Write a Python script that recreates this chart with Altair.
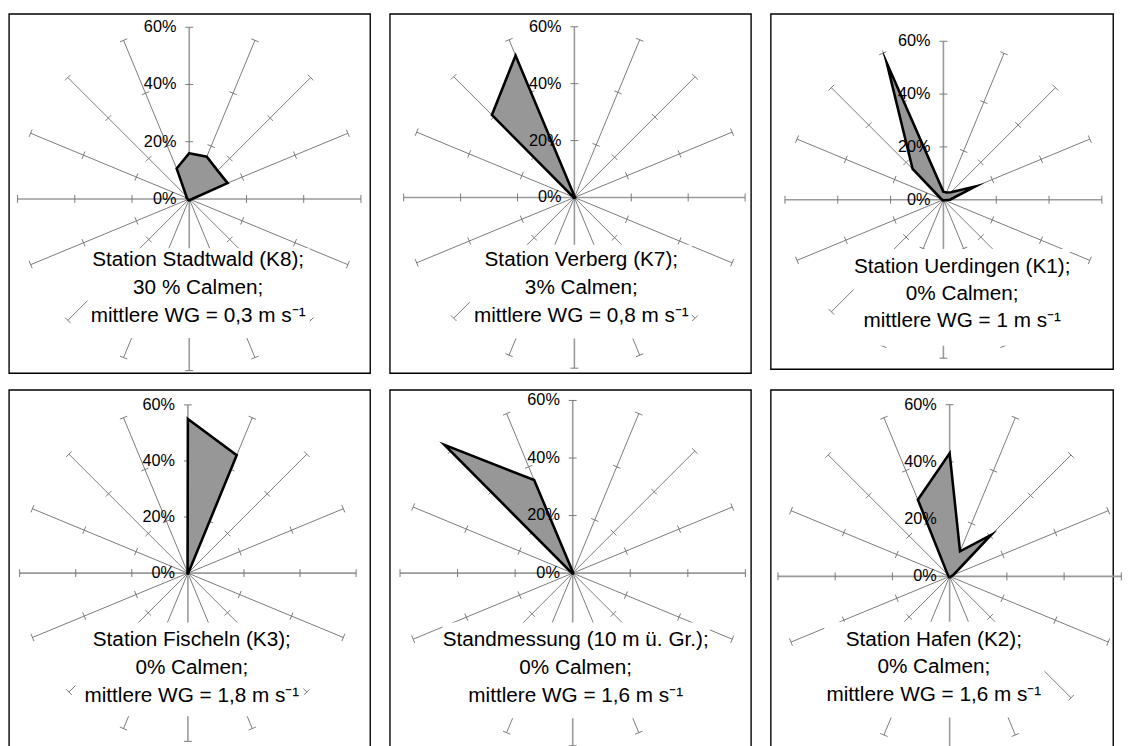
import math
import altair as alt
import pandas as pd

# ---------------- data ----------------
DIRECTIONS = ["N", "NNE", "NE", "ENE", "E", "ESE", "SE", "SSE",
              "S", "SSW", "SW", "WSW", "W", "WNW", "NW", "NNW"]
RING_TICKS = [20, 40, 60]
RING_LABELS = [0, 20, 40, 60]

STATIONS = ["Station Stadtwald (K8);", "Station Verberg (K7);", "Station Uerdingen (K1);",
            "Station Fischeln (K3);", "Standmessung (10 m ü. Gr.);", "Station Hafen (K2);"]
CALMS = ["30 % Calmen;", "3% Calmen;", "0% Calmen;",
         "0% Calmen;", "0% Calmen;", "0% Calmen;"]
MEAN_WS = ["mittlere WG = 0,3 m s⁻¹", "mittlere WG = 0,8 m s⁻¹", "mittlere WG = 1 m s⁻¹",
           "mittlere WG = 1,8 m s⁻¹", "mittlere WG = 1,6 m s⁻¹", "mittlere WG = 1,6 m s⁻¹"]

# frequency (%) per direction, N, NNE, ..., NNW
FREQ_K8 = [16, 16, 14, 14.5, 1, 0.5, 0.5, 0.5, 0.5, 0.5, 0.5, 0.5, 0.5, 1, 1.5, 11.5]
FREQ_K7 = [0.5, 0.3, 0.3, 0.3, 0.3, 0.2, 0.2, 0.2, 0.2, 0.2, 0.2, 0.2, 0.3, 0.5, 41, 54]
FREQ_K1 = [3, 3, 4, 13, 2.5, 0.5, 0.3, 0.3, 0.3, 0.3, 0.3, 0.3, 0.5, 1, 16.5, 56]
FREQ_K3 = [55, 45.5, 0.3, 0.2, 0.2, 0.2, 0.2, 0.2, 0.2, 0.2, 0.2, 0.2, 0.2, 0.2, 0.2, 0.3]
FREQ_STAND = [0.5, 0.3, 0.2, 0.2, 0.2, 0.2, 0.2, 0.2, 0.2, 0.2, 0.2, 0.2, 0.3, 0.5, 63, 35]
FREQ_K2 = [43, 9.5, 20.5, 1.5, 0.5, 0.3, 0.3, 0.3, 0.3, 0.3, 0.3, 0.3, 0.3, 0.5, 1, 29]
FREQS = [FREQ_K8, FREQ_K7, FREQ_K1, FREQ_K3, FREQ_STAND, FREQ_K2]

# ---------------- layout (pixels) ----------------
LAYOUT = [
    dict(w=366, h=364, cx=182.7, cy=187.5, r=174.0, tx=9, ty=[61.5, 90, 118.5], box=(-103, 122, 50, 141)),
    dict(w=366, h=364, cx=187.0, cy=186.0, r=173.0, tx=7, ty=[63, 92, 120], box=(-106, 119, 48, 143)),
    dict(w=347, h=360, cx=175.0, cy=188.3, r=160.6, tx=19, ty=[68, 96, 123], box=(-91, 128, 50, 148)),
    dict(w=366, h=364, cx=181.3, cy=185.7, r=170.5, tx=4, ty=[68, 96, 125], box=(-114, 117, 50, 145)),
    dict(w=366, h=364, cx=185.3, cy=185.7, r=175.0, tx=3, ty=[68, 96, 125], box=(-132, 139, 50, 147)),
    dict(w=347, h=364, cx=181.3, cy=189.0, r=174.0, tx=-16, ty=[65, 92, 120], box=(-127, 96, 46, 143)),
]

FONT = "Liberation Sans"
RMAX = max(RING_TICKS)


def panel(i):
    L = LAYOUT[i]
    k = L["r"] / RMAX  # px per percent
    xs = alt.Scale(domain=[-L["cx"] / k, (L["w"] - L["cx"]) / k], nice=False, zero=False)
    ys = alt.Scale(domain=[-(L["h"] - L["cy"]) / k, L["cy"] / k], nice=False, zero=False)

    def X(f):
        return alt.X(f, type="quantitative", scale=xs, axis=None)

    def Y(f):
        return alt.Y(f, type="quantitative", scale=ys, axis=None)

    spokes, ticks, poly = [], [], []
    half = 4.0 / k
    for j, d in enumerate(DIRECTIONS):
        a = math.radians(j * 22.5)
        s, c = math.sin(a), math.cos(a)
        spokes.append(dict(dir=d, x=0.0, y=0.0, x2=RMAX * s, y2=RMAX * c, card=(j % 4 == 0)))
        for t in RING_TICKS:
            px, py = t * s, t * c
            ticks.append(dict(x=px - half * c, y=py + half * s, x2=px + half * c, y2=py - half * s))
        v = FREQS[i][j]
        poly.append(dict(dir=d, idx=j, x=v * s, y=v * c))
    sp = pd.DataFrame(spokes)
    tk = pd.DataFrame(ticks)
    pl = pd.DataFrame(poly)

    spoke_diag = alt.Chart(sp[~sp["card"]]).mark_rule(color="#7a7a7a", strokeWidth=1).encode(
        x=X("x"), y=Y("y"), x2="x2", y2="y2")
    spoke_card = alt.Chart(sp[sp["card"]]).mark_rule(color="#9a9a9a", strokeWidth=1.6).encode(
        x=X("x"), y=Y("y"), x2="x2", y2="y2")
    tick_layer = alt.Chart(tk).mark_rule(color="#7a7a7a", strokeWidth=1).encode(
        x=X("x"), y=Y("y"), x2="x2", y2="y2")
    poly_layer = alt.Chart(pl).mark_line(
        interpolate="linear-closed", fill="#979797", stroke="black",
        strokeWidth=2.6, strokeJoin="miter", strokeMiterLimit=12
    ).encode(x=X("x"), y=Y("y"), order=alt.Order("idx:Q"))

    l, r, t, b = L["box"]
    box = pd.DataFrame([dict(x=l / k, x2=r / k, y=-t / k, y2=-b / k)])
    box_layer = alt.Chart(box).mark_rect(fill="white", strokeWidth=0).encode(
        x=X("x"), x2="x2", y=Y("y"), y2="y2")

    lab = pd.DataFrame([dict(x=0.0, y=float(v), text=f"{v}%") for v in RING_LABELS])
    lab_layer = alt.Chart(lab).mark_text(
        align="right", baseline="middle", dx=-13, font=FONT, fontSize=16.5, color="black"
    ).encode(x=X("x"), y=Y("y"), text="text")

    lines = [STATIONS[i], CALMS[i], MEAN_WS[i]]
    ttl = pd.DataFrame([dict(x=L["tx"] / k, y=-L["ty"][n] / k, text=lines[n]) for n in range(3)])
    ttl_layer = alt.Chart(ttl).mark_text(
        align="center", baseline="middle", font=FONT, fontSize=21, color="black"
    ).encode(x=X("x"), y=Y("y"), text="text")

    return alt.layer(spoke_diag, spoke_card, tick_layer, poly_layer, box_layer,
                     lab_layer, ttl_layer).properties(width=L["w"], height=L["h"])


row1 = alt.hconcat(panel(0), panel(1), panel(2), spacing=18)
row2 = alt.hconcat(panel(3), panel(4), panel(5), spacing=18)
chart = alt.vconcat(row1, row2, spacing=15).properties(
    padding=0, background="white"
).configure_view(stroke="black", strokeWidth=1.4)

chart.save("out.html", embed_options={"renderer": "svg", "actions": False})
